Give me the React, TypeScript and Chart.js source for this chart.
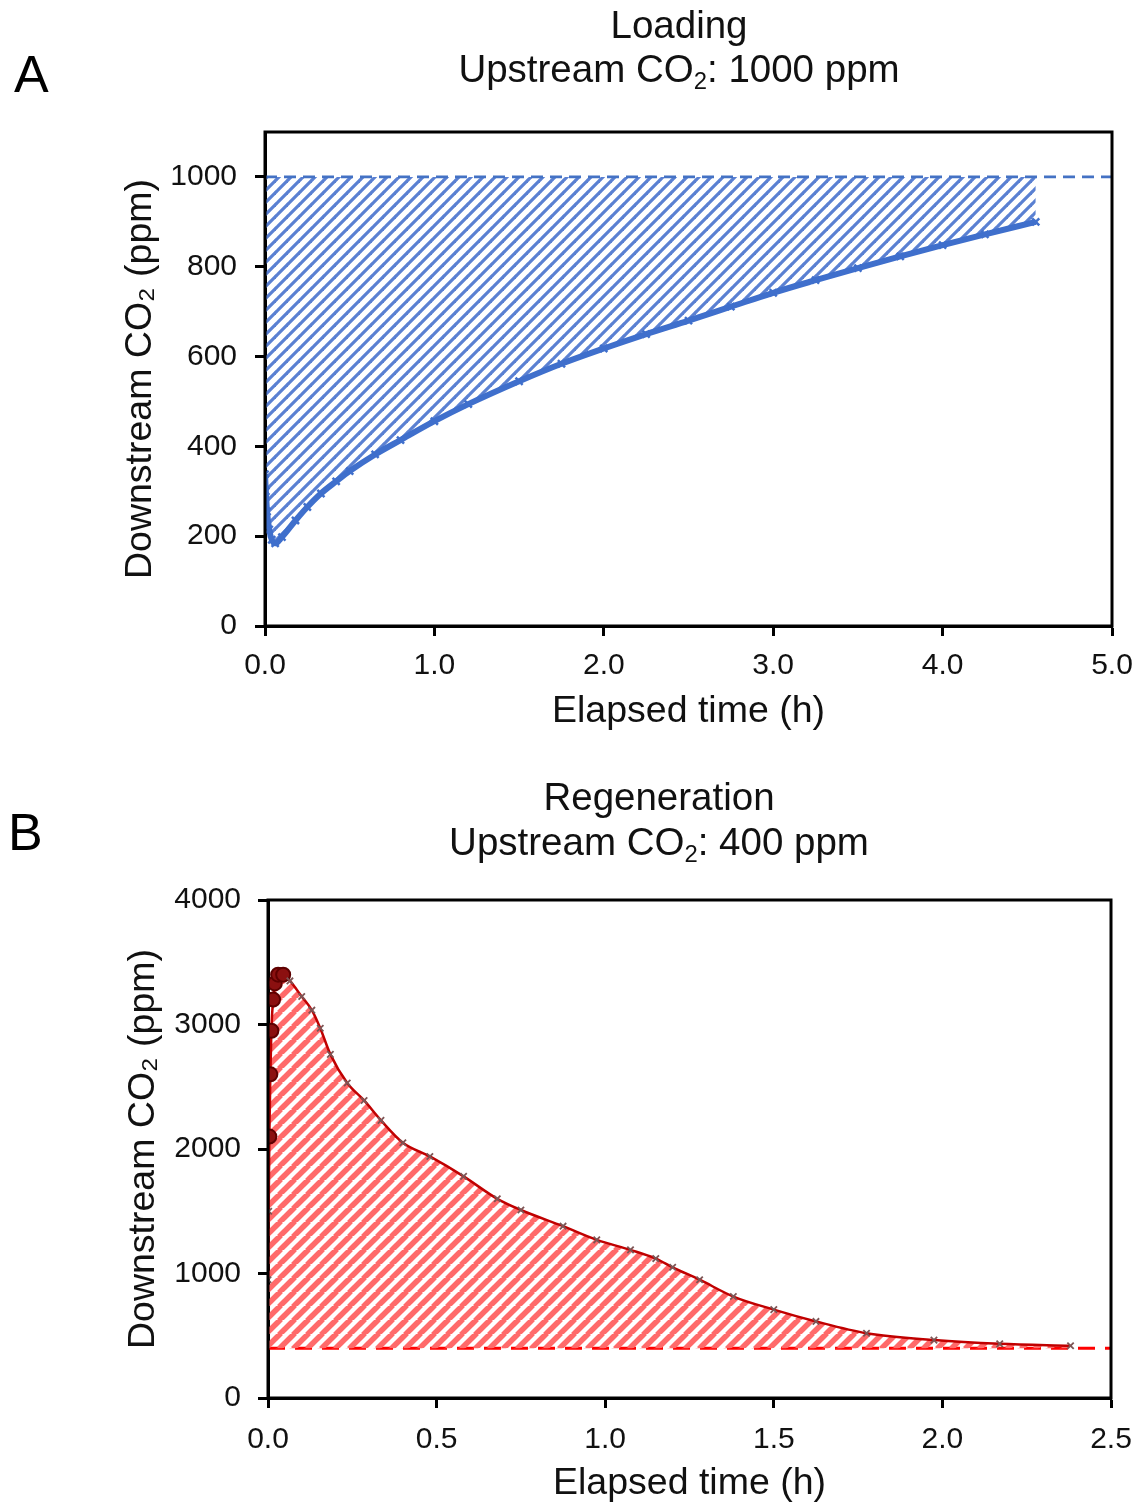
import React, { useEffect, useRef } from 'react';
import { Chart, registerables } from 'chart.js';

Chart.register(...registerables);

// ---------- Data ----------
const loadingTime = [0, 0.005, 0.012, 0.025, 0.04, 0.06, 0.1, 0.18, 0.25, 0.33, 0.42, 0.5, 0.65, 0.8, 1.0, 1.2, 1.5, 1.75, 2.0, 2.25, 2.5, 2.75, 3.0, 3.25, 3.5, 3.75, 4.0, 4.25, 4.55];
const loadingCO2 = [338, 300, 255, 215, 192, 184, 198, 235, 265, 295, 322, 345, 382, 414, 456, 494, 545, 584, 618, 650, 680, 711, 742, 770, 797, 823, 848, 872, 900];
const loadingUpstream = 1000;
const loadingXRange = [0, 5];
const loadingXTicks = [0, 1, 2, 3, 4, 5];
const loadingYRange = [0, 1100];
const loadingYTicks = [0, 200, 400, 600, 800, 1000];

const regenTime = [0, 0.002, 0.004, 0.007, 0.01, 0.015, 0.02, 0.03, 0.045, 0.065, 0.1, 0.13, 0.155, 0.185, 0.235, 0.285, 0.335, 0.4, 0.48, 0.58, 0.68, 0.75, 0.875, 0.975, 1.075, 1.15, 1.2, 1.28, 1.38, 1.5, 1.625, 1.775, 1.975, 2.17, 2.38];
const regenCO2 = [950, 1500, 2100, 2600, 2950, 3200, 3330, 3400, 3400, 3350, 3225, 3115, 2970, 2760, 2530, 2390, 2230, 2050, 1940, 1780, 1600, 1510, 1380, 1270, 1190, 1120, 1050, 950, 815, 710, 615, 520, 465, 435, 420];
const regenUpstream = 400;
const regenXRange = [0, 2.5];
const regenXTicks = [0, 0.5, 1.0, 1.5, 2.0, 2.5];
const regenYRange = [0, 4000];
const regenYTicks = [0, 1000, 2000, 3000, 4000];

const FONT = "'Liberation Sans', Arial, Helvetica, sans-serif";

function hatch(color: string, period: number, width: number) {
  const c = document.createElement('canvas');
  c.width = period;
  c.height = period;
  const g = c.getContext('2d')!;
  g.strokeStyle = color;
  g.lineWidth = width;
  for (const k of [-1, 0, 1]) {
    g.beginPath();
    g.moveTo(k * period - 1, period + 1);
    g.lineTo(k * period + period + 1, -1);
    g.stroke();
  }
  return g.createPattern(c, 'repeat')!;
}

const framePlugin = {
  id: 'frame',
  afterDatasetsDraw(chart: any) {
    const { ctx, chartArea } = chart;
    const { left, top, right, bottom } = chartArea;
    ctx.save();
    ctx.strokeStyle = '#000';
    ctx.lineWidth = 3;
    ctx.strokeRect(left, top, right - left, bottom - top);
    ctx.restore();
  },
};

interface AxisCfg {
  xRange: number[];
  xTicks: number[];
  yRange: number[];
  yTicks: number[];
  yWidth: number;
  xHeight: number;
  yLabelPad: number;
  xLabelPad: number;
  yTitlePad: number;
  xTitlePad: number;
}

function scales(a: AxisCfg) {
  const tickFont = { family: FONT, size: 30 };
  const titleFont = { family: FONT, size: 37.5 };
  const grid = { drawOnChartArea: false, drawTicks: true, tickLength: 10, tickWidth: 3, tickColor: '#000' };
  const border = { display: true, color: '#000', width: 3 };
  return {
    x: {
      type: 'linear' as const,
      min: a.xRange[0],
      max: a.xRange[1],
      afterBuildTicks: (s: any) => { s.ticks = a.xTicks.map((v) => ({ value: v })); },
      afterFit: (s: any) => { s.height = a.xHeight; s.paddingLeft = 0; s.paddingRight = 0; },
      ticks: {
        font: tickFont, color: '#111', padding: a.xLabelPad, maxRotation: 0, autoSkip: false,
        callback: (v: any) => Number(v).toFixed(1),
      },
      grid, border,
      title: { display: true, text: 'Elapsed time (h)', font: titleFont, color: '#111', padding: { top: 0, bottom: a.xTitlePad } },
    },
    y: {
      type: 'linear' as const,
      min: a.yRange[0],
      max: a.yRange[1],
      afterBuildTicks: (s: any) => { s.ticks = a.yTicks.map((v) => ({ value: v })); },
      afterFit: (s: any) => { s.width = a.yWidth; s.paddingTop = 0; s.paddingBottom = 0; },
      ticks: { font: tickFont, color: '#111', padding: a.yLabelPad, callback: (v: any) => String(v) },
      grid, border,
      title: { display: true, text: 'Downstream CO₂ (ppm)', font: titleFont, color: '#111', padding: { top: a.yTitlePad, bottom: 0 } },
    },
  };
}

function LoadingChart() {
  const ref = useRef<HTMLCanvasElement>(null);
  useEffect(() => {
    const curve = loadingTime.map((t, i) => ({ x: t, y: loadingCO2[i] }));
    const upstream = loadingXRange.map((t) => ({ x: t, y: loadingUpstream }));
    const chart = new Chart(ref.current!, {
      type: 'line',
      data: {
        datasets: [
          {
            label: 'Upstream',
            data: upstream,
            borderColor: '#4472c4',
            borderWidth: 2.6,
            borderDash: [12, 7],
            pointRadius: 0,
            fill: false,
          },
          {
            label: 'Downstream',
            data: curve,
            borderColor: '#3f6fcc',
            borderWidth: 6,
            pointStyle: 'crossRot',
            pointRadius: 5,
            pointBorderWidth: 2.5,
            pointBorderColor: '#3f6fcc',
            backgroundColor: hatch('#5a80d2', 12, 3.2),
            fill: { value: loadingUpstream },
            cubicInterpolationMode: 'monotone',
          },
        ],
      },
      options: {
        responsive: false,
        animation: false,
        devicePixelRatio: 1,
        layout: { padding: { top: 132, right: 27, left: 0, bottom: 0 } },
        plugins: { legend: { display: false }, tooltip: { enabled: false } },
        scales: scales({
          xRange: loadingXRange, xTicks: loadingXTicks, yRange: loadingYRange, yTicks: loadingYTicks,
          yWidth: 265, xHeight: 124, yLabelPad: 18, xLabelPad: 12, yTitlePad: 118, xTitlePad: 16,
        }) as any,
      },
      plugins: [framePlugin],
    });
    return () => chart.destroy();
  }, []);
  return <canvas ref={ref} width={1139} height={750} style={{ position: 'absolute', left: 0, top: 0, display: 'block' }} />;
}

function RegenChart() {
  const ref = useRef<HTMLCanvasElement>(null);
  useEffect(() => {
    const curve = regenTime.map((t, i) => ({ x: t, y: regenCO2[i] }));
    const upstream = regenXRange.map((t) => ({ x: t, y: regenUpstream }));
    const isPeak = (c: any) => c.raw && c.raw.x <= 0.05 && c.raw.y >= 2000;
    const chart = new Chart(ref.current!, {
      type: 'line',
      data: {
        datasets: [
          {
            label: 'Downstream',
            data: curve,
            borderColor: '#c00000',
            borderWidth: 2.5,
            pointStyle: (c: any) => (isPeak(c) ? 'circle' : 'crossRot'),
            pointRadius: (c: any) => (isPeak(c) ? 7 : 4.5),
            pointBorderWidth: (c: any) => (isPeak(c) ? 2 : 1.8),
            pointBorderColor: (c: any) => (isPeak(c) ? '#5e0000' : '#7d5555'),
            pointBackgroundColor: '#8b1010',
            backgroundColor: hatch('#ff6a6a', 14, 5.5),
            fill: { value: regenUpstream },
            cubicInterpolationMode: 'monotone',
          },
          {
            label: 'Upstream',
            data: upstream,
            borderColor: '#ff0000',
            borderWidth: 3,
            borderDash: [17, 10],
            pointRadius: 0,
            fill: false,
          },
        ],
      },
      options: {
        responsive: false,
        animation: false,
        devicePixelRatio: 1,
        layout: { padding: { top: 140, right: 28, left: 0, bottom: 0 } },
        plugins: { legend: { display: false }, tooltip: { enabled: false } },
        scales: scales({
          xRange: regenXRange, xTicks: regenXTicks, yRange: regenYRange, yTicks: regenYTicks,
          yWidth: 268, xHeight: 108, yLabelPad: 17, xLabelPad: 14, yTitlePad: 121, xTitlePad: 0,
        }) as any,
      },
      plugins: [framePlugin],
    });
    return () => chart.destroy();
  }, []);
  return <canvas ref={ref} width={1139} height={746} style={{ position: 'absolute', left: 0, top: 760, display: 'block' }} />;
}

const titleStyle: React.CSSProperties = {
  position: 'absolute',
  transform: 'translateX(-50%)',
  whiteSpace: 'nowrap',
  fontFamily: FONT,
  fontSize: 38.5,
  lineHeight: '38px',
  color: '#111',
};
const letterStyle: React.CSSProperties = {
  position: 'absolute',
  fontFamily: FONT,
  fontSize: 52,
  lineHeight: '52px',
  color: '#000',
};
const subStyle: React.CSSProperties = { fontSize: '0.62em', verticalAlign: '-0.3em', lineHeight: 0 };

export default function App() {
  return (
    <div style={{ position: 'absolute', left: 0, top: 0, width: 1139, height: 1506, background: '#fff', overflow: 'hidden' }}>
      <LoadingChart />
      <RegenChart />
      <div style={{ ...letterStyle, left: 14, top: 48 }}>A</div>
      <div style={{ ...letterStyle, left: 8, top: 806 }}>B</div>
      <div style={{ ...titleStyle, left: 679, top: 6 }}>Loading</div>
      <div style={{ ...titleStyle, left: 679, top: 50 }}>Upstream CO<span style={subStyle}>2</span>: 1000 ppm</div>
      <div style={{ ...titleStyle, left: 659, top: 778 }}>Regeneration</div>
      <div style={{ ...titleStyle, left: 659, top: 823 }}>Upstream CO<span style={subStyle}>2</span>: 400 ppm</div>
    </div>
  );
}
